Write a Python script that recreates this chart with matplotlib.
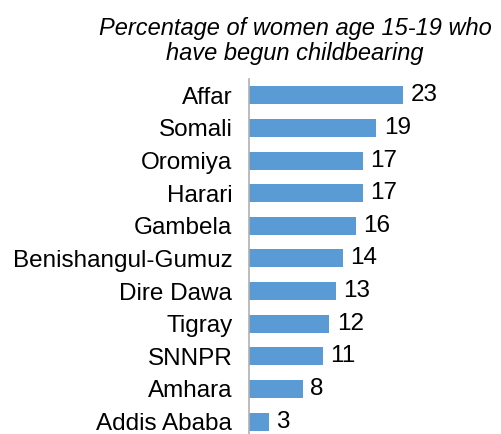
import matplotlib.pyplot as plt

plt.rcParams['font.family'] = ['Liberation Sans', 'DejaVu Sans']

regions = ['Affar', 'Somali', 'Oromiya', 'Harari', 'Gambela', 'Benishangul-Gumuz',
           'Dire Dawa', 'Tigray', 'SNNPR', 'Amhara', 'Addis Ababa']
values = [23, 19, 17, 17, 16, 14, 13, 12, 11, 8, 3]

fig = plt.figure(figsize=(5.01, 4.34), dpi=100)
ax = fig.add_axes([0.497, -0.009, 0.503, 0.827])

ypos = list(range(len(regions)))[::-1]
ax.barh(ypos, values, height=0.55, color='#5B9BD5')
for y, v in zip(ypos, values):
    ax.text(v + 1.1, y, str(v), va='center', ha='left', fontsize=17.5)

ax.set_yticks(ypos)
ax.set_yticklabels(regions, fontsize=17.5)
ax.set_ylim(-0.5, len(regions) - 0.5)
ax.set_xlim(0, 37.6)
ax.tick_params(axis='y', length=0, pad=12)
ax.set_xticks([])
for s in ['top', 'right', 'bottom']:
    ax.spines[s].set_visible(False)
ax.spines['left'].set_color('#b0b0b0')
ax.spines['left'].set_linewidth(1.2)

fig.text(0.589, 0.905, 'Percentage of women age 15-19 who\nhave begun childbearing',
         ha='center', va='center', fontsize=17, style='italic', linespacing=1.1)

fig.savefig('out.png', dpi=100)
